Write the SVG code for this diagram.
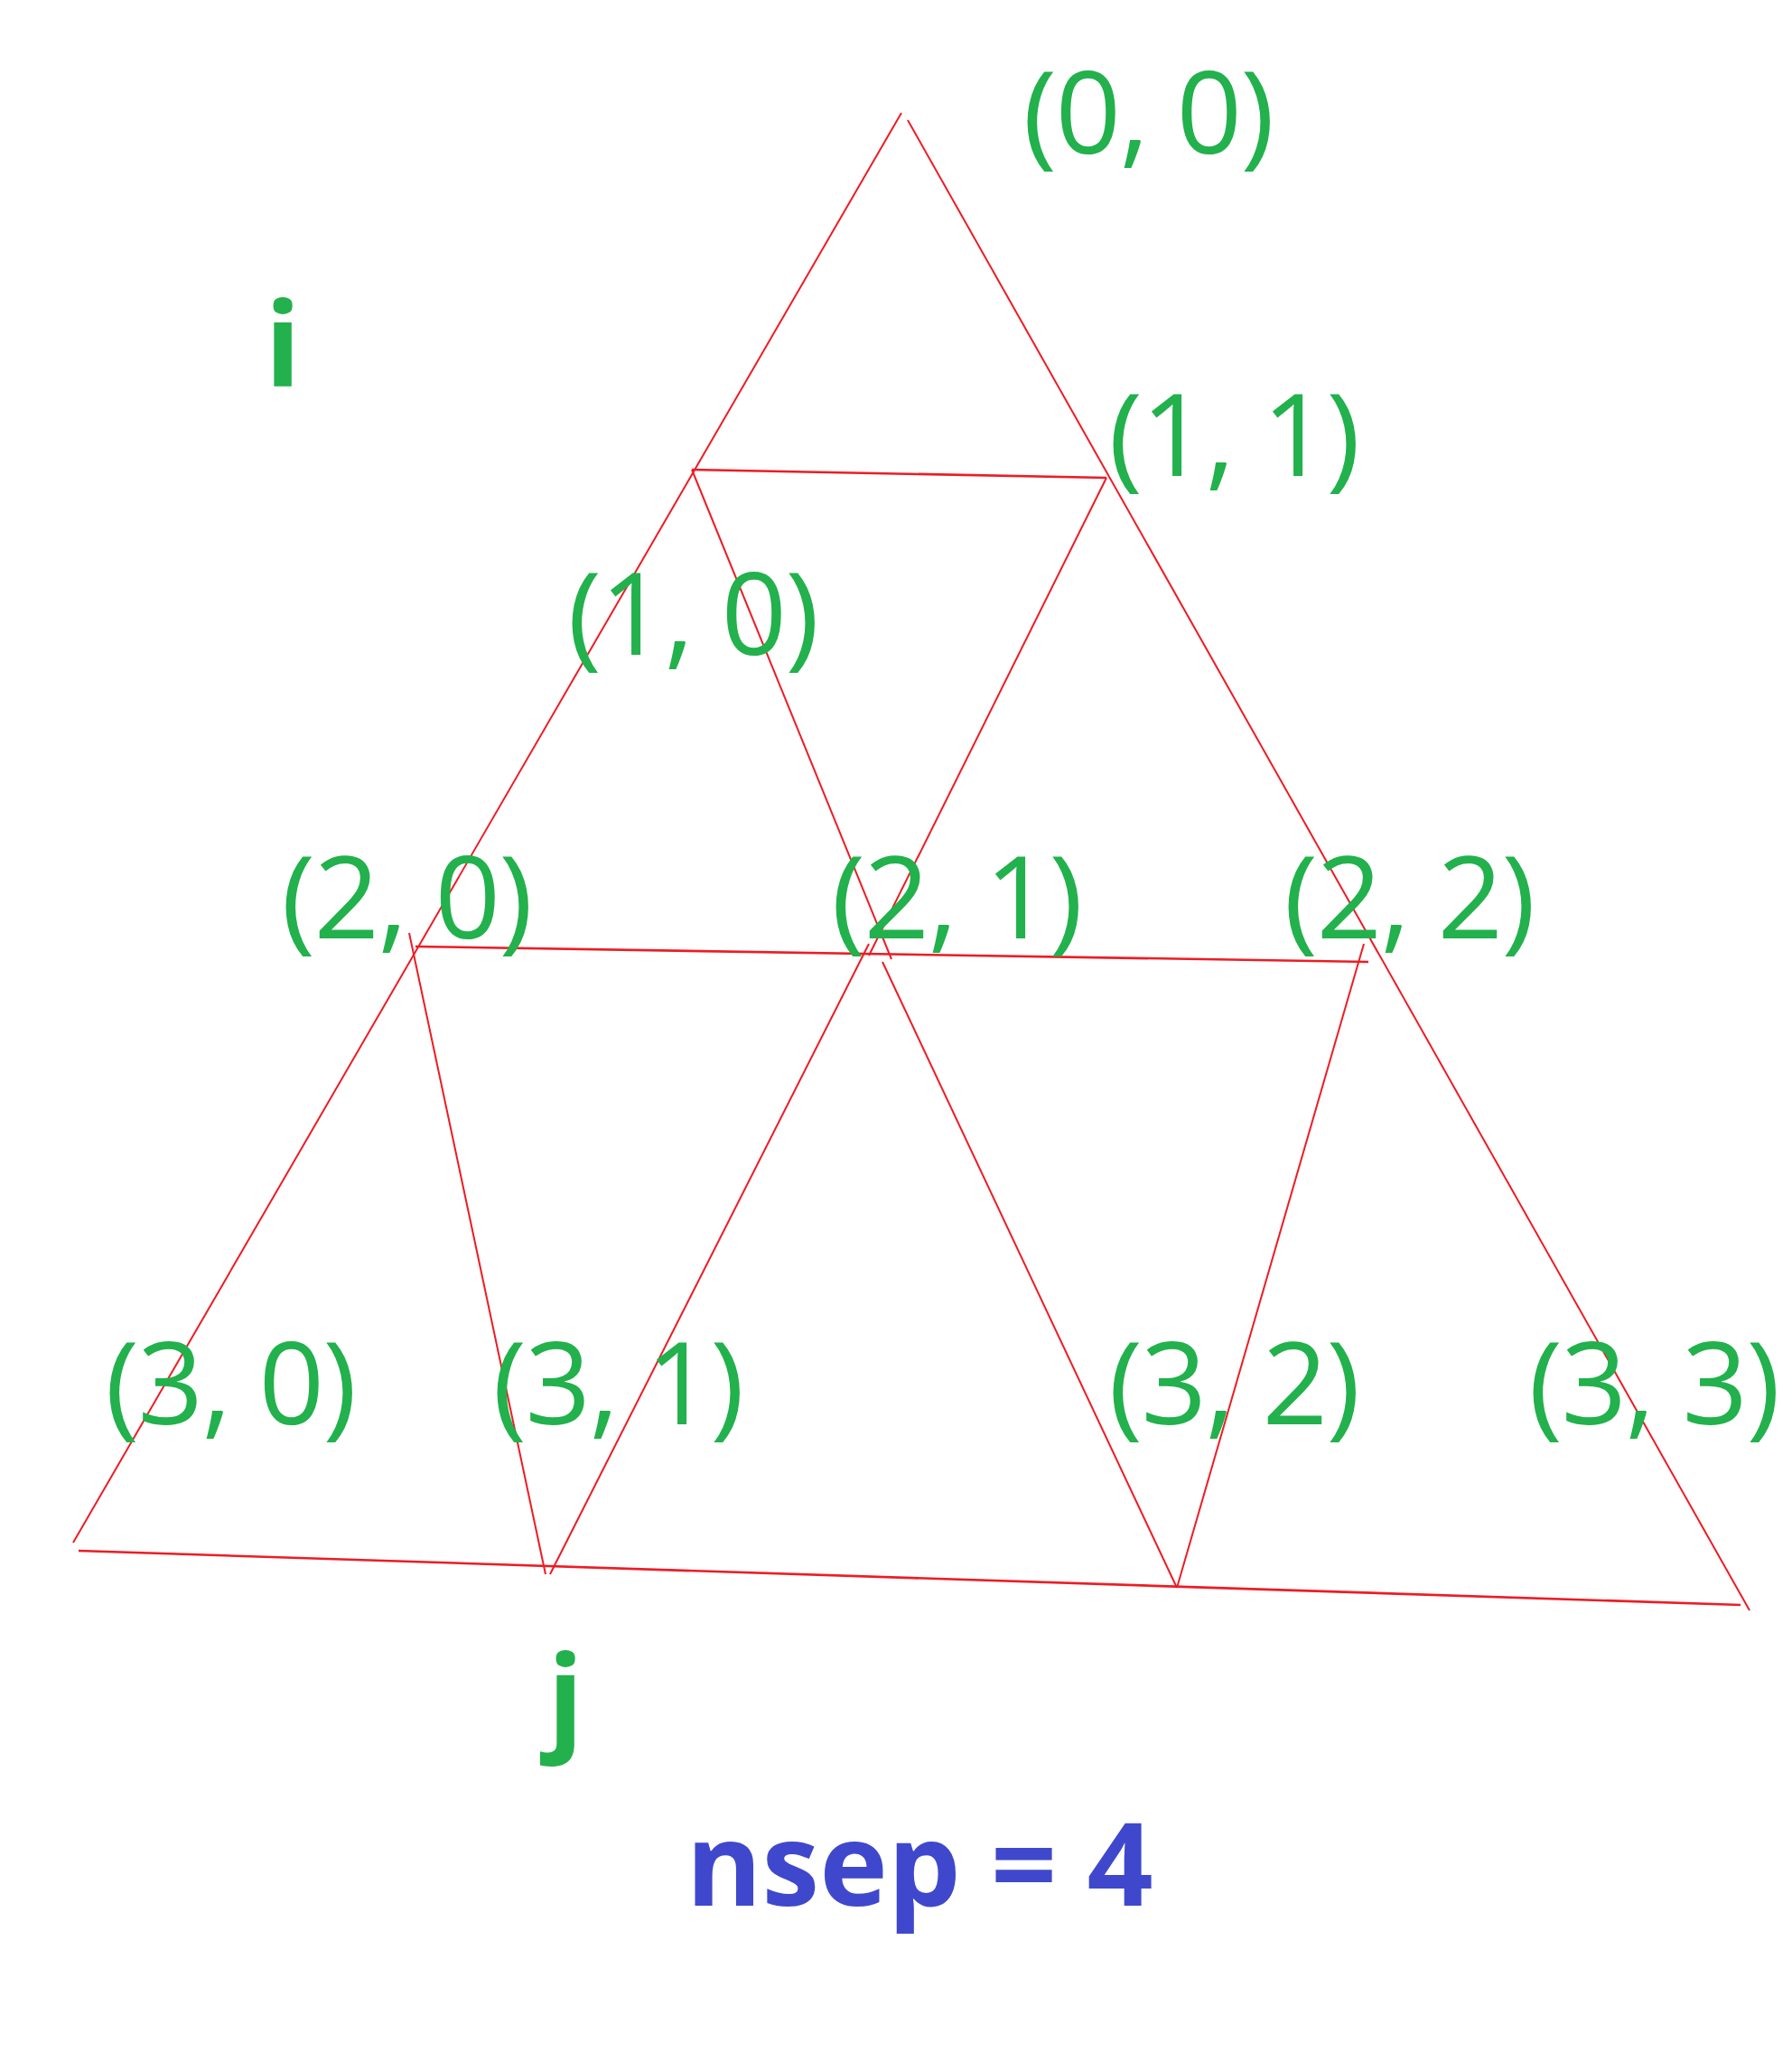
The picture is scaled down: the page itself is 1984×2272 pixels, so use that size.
<svg xmlns="http://www.w3.org/2000/svg" width="1984" height="2272" viewBox="0 0 1984 2272">
<style>
.bg{fill:#ffffff}
.ln{stroke:#ED1C24;stroke-width:2;fill:none;stroke-linecap:butt}
.hz{stroke-width:2.6}
.lb{font-family:"Open Sans","Noto Sans","DejaVu Sans",sans-serif;font-size:127px;letter-spacing:-1.5px;fill:#22B14C;text-anchor:middle}
.ax{font-family:"Open Sans","Noto Sans","DejaVu Sans",sans-serif;font-size:130px;font-weight:bold;fill:#22B14C;text-anchor:middle}
.ns{font-family:"Open Sans","Noto Sans","DejaVu Sans",sans-serif;font-size:128px;font-weight:bold;fill:#3F48CC;text-anchor:middle}
</style>
<rect class="bg" x="0" y="0" width="1984" height="2272"/>
<g id="connectors">
<line class="ln" x1="998" y1="125" x2="81" y2="1708"/>
<line class="ln" x1="1005" y1="133" x2="1937" y2="1783"/>
<line class="ln hz" x1="766" y1="520" x2="1225" y2="529"/>
<line class="ln" x1="766" y1="520" x2="987" y2="1062"/>
<line class="ln" x1="1225" y1="529" x2="962" y2="1058"/>
<line class="ln hz" x1="460" y1="1048" x2="1515" y2="1065"/>
<line class="ln" x1="453" y1="1033" x2="604" y2="1743"/>
<line class="ln" x1="962" y1="1045" x2="609" y2="1743"/>
<line class="ln" x1="977" y1="1065" x2="1303" y2="1758"/>
<line class="ln" x1="1510" y1="1045" x2="1303" y2="1758"/>
<line class="ln hz" x1="87" y1="1717" x2="1927" y2="1777"/>
</g>
<g id="n00"><text class="lb" x="1271" y="170">(0, 0)</text></g>
<g id="n11"><text class="lb" x="1366" y="527">(1, 1)</text></g>
<g id="n10"><text class="lb" x="767" y="725">(1, 0)</text></g>
<g id="n20"><text class="lb" x="450" y="1039">(2, 0)</text></g>
<g id="n21"><text class="lb" x="1059" y="1039">(2, 1)</text></g>
<g id="n22"><text class="lb" x="1560" y="1039">(2, 2)</text></g>
<g id="n30"><text class="lb" x="255" y="1577">(3, 0)</text></g>
<g id="n31"><text class="lb" x="684" y="1577">(3, 1)</text></g>
<g id="n32"><text class="lb" x="1366" y="1577">(3, 2)</text></g>
<g id="n33"><text class="lb" x="1831" y="1577">(3, 3)</text></g>
<g id="axis-i"><text class="ax" x="313" y="427">i</text></g>
<g id="axis-j"><text class="ax" x="626" y="1925">j</text></g>
<g id="caption"><text class="ns" x="1018" y="2110">nsep = 4</text></g>
</svg>
